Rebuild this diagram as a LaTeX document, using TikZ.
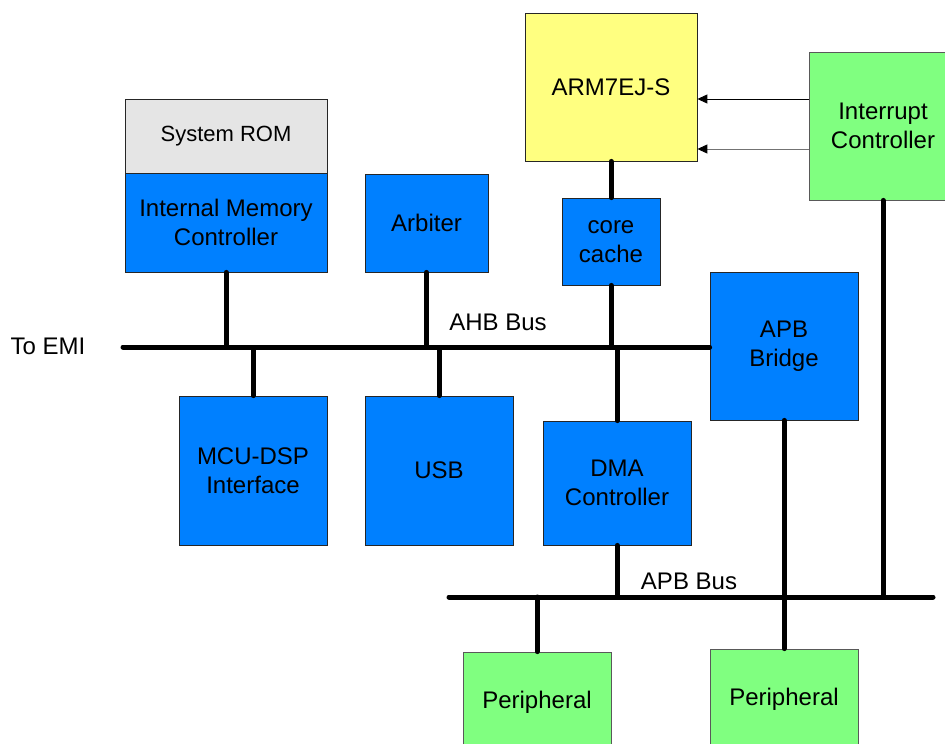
\documentclass[tikz,border=0pt]{standalone}
\usepackage{fontspec}
\setmainfont{Liberation Sans}
\usetikzlibrary{arrows.meta}
\definecolor{blkblue}{HTML}{0080FF}
\definecolor{blkyellow}{HTML}{FFFF80}
\definecolor{blkgreen}{HTML}{80FF80}
\definecolor{blkgray}{HTML}{E5E5E5}
\tikzset{
  blk/.style={draw=black!85, line width=0.8pt, inner sep=0pt, align=center,
    font=\fontsize{24}{29}\selectfont},
  bus/.style={line width=5pt, line cap=round},
  irq/.style={line width=0.9pt, -{Triangle[length=10pt,width=9pt,color=black]}},
  lbl/.style={inner sep=0pt, font=\fontsize{24}{29}\selectfont}
}
\begin{document}
\begin{tikzpicture}[x=1pt,y=-1pt]
\useasboundingbox (0,0) rectangle (945,744);
\clip (0,0) rectangle (945,744);
\fill[white] (0,0) rectangle (945,744);
% boxes
\node[blk, fill=blkgray, minimum width=202pt, minimum height=74pt, font=\fontsize{22}{27}\selectfont] (rom) at (226,136) {System ROM};
\node[blk, fill=blkblue, minimum width=202pt, minimum height=99pt] (imc) at (226,222.5) {Internal Memory\\Controller};
\node[blk, fill=blkblue, minimum width=123pt, minimum height=98pt] (arb) at (426.5,223) {Arbiter};
\node[blk, fill=blkyellow, minimum width=172pt, minimum height=148pt] (arm) at (611,87) {ARM7EJ-S};
\node[blk, fill=blkblue, minimum width=98pt, minimum height=87pt] (cache) at (611,241.5) {core\\cache};
\node[blk, draw=black!65, fill=blkgreen, minimum width=148pt, minimum height=148pt] (intc) at (883,126) {Interrupt\\Controller};
\node[blk, fill=blkblue, minimum width=148pt, minimum height=148pt] (bridge) at (784,346) {APB\\Bridge};
\node[blk, fill=blkblue, minimum width=148pt, minimum height=149pt] (mcu) at (253,470.5) {MCU-DSP\\Interface};
\node[blk, fill=blkblue, minimum width=148pt, minimum height=149pt] (usb) at (439,470.5) {USB};
\node[blk, fill=blkblue, minimum width=148pt, minimum height=124pt] (dma) at (617,483) {DMA\\Controller};
\node[blk, draw=black!65, fill=blkgreen, minimum width=148pt, minimum height=100pt] (per1) at (537,702) {Peripheral};
\node[blk, draw=black!65, fill=blkgreen, minimum width=148pt, minimum height=100pt] (per2) at (784,699) {Peripheral};
% bus end points
\coordinate (ahbL) at (123,347);
\coordinate (apbL) at (449,597);
\coordinate (apbR) at (933,597);
% labels
\node[lbl] (emi) at (48,346) {To EMI};
\node[lbl] (ahblbl) at (498,322) {AHB Bus};
\node[lbl] (apblbl) at (689,581) {APB Bus};
% AHB bus
\draw[bus] (ahbL) -- (ahbL -| bridge.west);
\draw[bus] (imc.south) -- (imc.south |- ahbL);
\draw[bus] (arb.south) -- (arb.south |- ahbL);
\draw[bus] (cache.south) -- (cache.south |- ahbL);
\draw[bus] (arm.south) -- (cache.north);
\draw[bus] (mcu.north) -- ([yshift=-3pt]mcu.north |- ahbL);
\draw[bus] (usb.north) -- ([yshift=-3pt]usb.north |- ahbL);
\draw[bus] (dma.north) -- ([yshift=-3pt]dma.north |- ahbL);
% APB bus
\draw[bus] (apbL) -- (apbR);
\draw[bus] (dma.south) -- (dma.south |- apbL);
\draw[bus] (bridge.south) -- (per2.north);
\draw[bus] (intc.south) -- (intc.south |- apbL);
\draw[bus] (per1.north) -- (per1.north |- apbL);
% interrupt lines
\draw[irq] ([yshift=27pt]intc.west) -- ([yshift=27pt]intc.west -| arm.east);
\draw[irq, draw=black!55] ([yshift=-23pt]intc.west) -- ([yshift=-23pt]intc.west -| arm.east);
\end{tikzpicture}
\end{document}
